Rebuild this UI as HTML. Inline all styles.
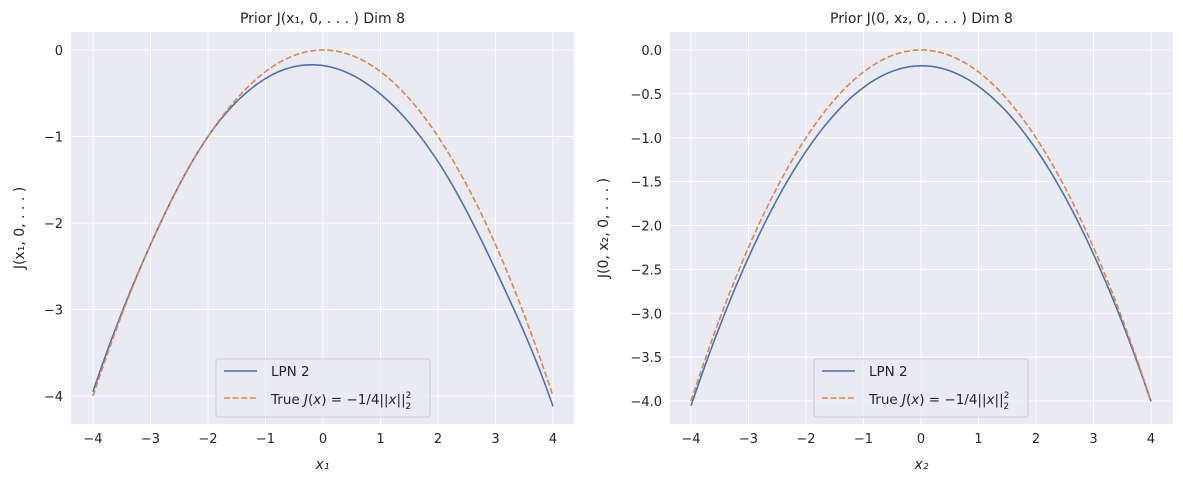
<!DOCTYPE html>
<html><head><meta charset="utf-8"><style>
body{margin:0;background:#fff;}
svg text{font-family:"DejaVu Sans","Liberation Sans",sans-serif;fill:#262626;}
</style></head><body>
<svg id="s" width="1183" height="484" xmlns="http://www.w3.org/2000/svg"></svg>
<script>
const s=document.getElementById('s');let h='';
function panel(L,R,T,B,x0,xs,y0,ys,yt,ylab,xlab,title,f,g,legX){
  const X=x=>x0+x*xs, Y=y=>y0-y*ys;
  h+=`<rect x="${L}" y="${T}" width="${R-L}" height="${B-T}" fill="#eaeaf2"/>`;
  for(let i=-4;i<=4;i++){h+=`<line x1="${X(i)}" y1="${T}" x2="${X(i)}" y2="${B}" stroke="#fff" stroke-width="1"/>`;
    h+=`<text x="${X(i)}" y="${B+19}" font-size="13" text-anchor="middle">${i<0?'−'+(-i):i}</text>`;}
  yt.forEach(v=>{h+=`<line x1="${L}" y1="${Y(v)}" x2="${R}" y2="${Y(v)}" stroke="#fff" stroke-width="1"/>`;
    let t=ylab.dec?v.toFixed(1):String(v);if(v<0)t='−'+t.slice(1);if(t=='-0.0'||t=='−0.0')t='0.0';
    h+=`<text x="${L-8}" y="${Y(v)+5}" font-size="13" text-anchor="end">${t}</text>`;});
  let p1='',p2='';
  for(let i=0;i<=200;i++){let x=-4+8*i/200;p1+=(i?'L':'M')+X(x).toFixed(1)+','+Y(f(x)).toFixed(1);p2+=(i?'L':'M')+X(x).toFixed(1)+','+Y(g(x)).toFixed(1);}
  h+=`<path d="${p1}" fill="none" stroke="#4c72b0" stroke-width="1.6"/>`;
  h+=`<path d="${p2}" fill="none" stroke="#dd8452" stroke-width="1.6" stroke-dasharray="6,2.6"/>`;
  h+=`<text x="${(L+R)/2}" y="23" font-size="14" text-anchor="middle">${title}</text>`;
  h+=`<text x="${(L+R)/2}" y="469" font-size="14" text-anchor="middle" font-style="italic">${xlab}</text>`;
  h+=`<text transform="translate(${ylab.x},${(T+B)/2}) rotate(-90)" font-size="14" text-anchor="middle">${ylab.t}</text>`;
  h+=`<rect x="${legX}" y="359" width="214" height="58" rx="3" fill="#eaeaf2" fill-opacity="0.8" stroke="#cccccc"/>`;
  h+=`<line x1="${legX+8}" y1="371" x2="${legX+41}" y2="371" stroke="#4c72b0" stroke-width="1.6"/>`;
  h+=`<text x="${legX+55}" y="376" font-size="13.5">LPN 2</text>`;
  h+=`<line x1="${legX+8}" y1="398" x2="${legX+41}" y2="398" stroke="#dd8452" stroke-width="1.6" stroke-dasharray="6,2.6"/>`;
  h+=`<text x="${legX+55}" y="404" font-size="13.5">True <tspan font-style="italic">J</tspan>(<tspan font-style="italic">x</tspan>) = −1/4||<tspan font-style="italic">x</tspan>||<tspan font-size="9" dy="-6">2</tspan><tspan font-size="9" dx="-6" dy="11">2</tspan></text>`;
}
const tr=x=>-0.25*x*x;
const cc=[0.05,0,0,-0.08,-0.18,-0.26,-0.29,-0.29,-0.12];
function corr(x){let t=x+4,i=Math.min(7,Math.floor(t)),u=t-i;
  const p=k=>cc[Math.max(0,Math.min(8,k))];
  const p0=p(i-1),p1=p(i),p2=p(i+1),p3=p(i+2);
  return 0.5*((2*p1)+(-p0+p2)*u+(2*p0-5*p1+4*p2-p3)*u*u+(-p0+3*p1-3*p2+p3)*u*u*u);}
panel(71,574,32,424,553-4*57.5,57.5,50,86.5,[0,-1,-2,-3,-4],{x:24,t:'J(x₁, 0, . . . )',dec:false},'x₁','Prior J(x₁, 0, . . . ) Dim 8',
 x=>tr(x)+corr(x),tr,216);
panel(670,1173,32,424,921,57.5,50,87.75,[0,-0.5,-1,-1.5,-2,-2.5,-3,-3.5,-4],{x:608,t:'J(0, x₂, 0, . . . )',dec:true},'x₂','Prior J(0, x₂, 0, . . . ) Dim 8',
 x=>-0.18+0.00625*x-0.2406*x*x,tr,814);
s.innerHTML=h;
</script>
</body></html>
